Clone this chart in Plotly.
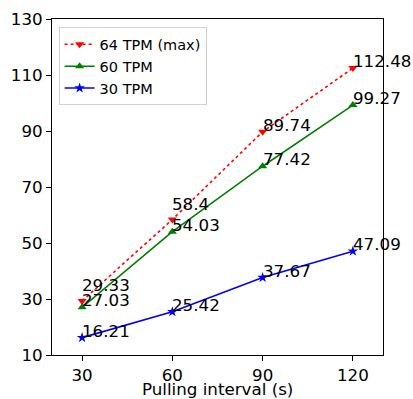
import plotly.graph_objects as go

intervals = [30, 60, 90, 120]
tpm64 = [29.33, 58.4, 89.74, 112.48]
tpm60 = [27.03, 54.03, 77.42, 99.27]
tpm30 = [16.21, 25.42, 37.67, 47.09]
y_ticks = [10, 30, 50, 70, 90, 110, 130]

series = [
    ("64 TPM (max)", tpm64, "red", "dot", "triangle-down", 8, [3, 3, 0, 0]),
    ("60 TPM", tpm60, "green", "solid", "triangle-up", 8, [0, 0, 0, 0]),
    ("30 TPM", tpm30, "blue", "solid", "star", 8, [0, 0, 0, 0]),
]

FONT = "DejaVu Sans"
fig = go.Figure()
annotations = []
for name, vals, color, dash, sym, msize, lift in series:
    fig.add_trace(go.Scatter(
        x=intervals, y=vals, name=name, mode="lines+markers",
        line=dict(color=color, width=1.6, dash=dash),
        marker=dict(symbol=sym, size=msize, color=color),
    ))
    for xv, yv, dy in zip(intervals, vals, lift):
        annotations.append(dict(
            x=xv, y=yv + dy, xref="x", yref="y", text=f"{yv:g}",
            showarrow=False, xanchor="left", yanchor="bottom",
            yshift=-5, xshift=-2,
            font=dict(family=FONT, size=16.7, color="black"),
        ))

annotations.append(dict(
    x=0.5, y=0, xref="paper", yref="paper", yshift=-22,
    text="Pulling interval (s)", showarrow=False,
    xanchor="center", yanchor="top",
    font=dict(family=FONT, size=16.7, color="black"),
))

fig.update_layout(
    width=413, height=399,
    margin=dict(l=52, r=30, t=19, b=44),
    paper_bgcolor="white", plot_bgcolor="white",
    font=dict(family=FONT, size=16.7, color="black"),
    annotations=annotations,
    legend=dict(
        x=0.02, y=0.975, xanchor="left", yanchor="top",
        bgcolor="rgba(255,255,255,0.8)", bordercolor="#d0d0d0", borderwidth=1,
        font=dict(family=FONT, size=14.5, color="black"),
        tracegroupgap=0, itemwidth=30,
    ),
    xaxis=dict(
        range=[20, 130], tickvals=intervals, ticktext=[str(v) for v in intervals],
        showgrid=False, zeroline=False, showline=True, linecolor="black",
        linewidth=1, mirror=True, ticks="outside", ticklen=5, tickcolor="black",
        automargin=False,
    ),
    yaxis=dict(
        range=[10, 130], tickvals=y_ticks, ticktext=[str(v) for v in y_ticks],
        showgrid=False, zeroline=False, showline=True, linecolor="black",
        linewidth=1, mirror=True, ticks="outside", ticklen=5, tickcolor="black",
        automargin=False,
    ),
)

fig.write_html("out.html")
